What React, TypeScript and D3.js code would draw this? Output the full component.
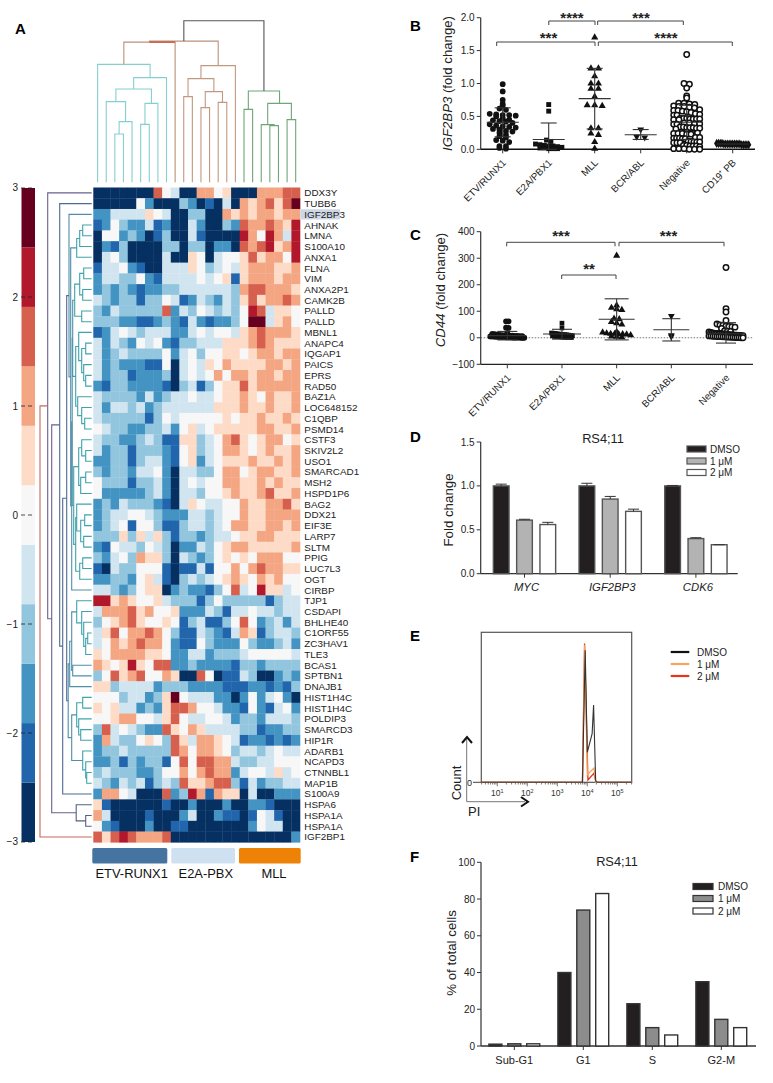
import React from "react";
import * as d3 from "d3";

// ---------- Panel A data ----------
const genes = ["DDX3Y","TUBB6","IGF2BP3","AHNAK","LMNA","S100A10","ANXA1","FLNA","VIM","ANXA2P1","CAMK2B","PALLD","PALLD","MBNL1","ANAPC4","IQGAP1","PAICS","EPRS","RAD50","BAZ1A","LOC648152","C1QBP","PSMD14","CSTF3","SKIV2L2","USO1","SMARCAD1","MSH2","HSPD1P6","BAG2","DDX21","EIF3E","LARP7","SLTM","PPIG","LUC7L3","OGT","CIRBP","TJP1","CSDAPI","BHLHE40","C1ORF55","ZC3HAV1","TLE3","BCAS1","SPTBN1","DNAJB1","HIST1H4C","HIST1H4C","POLDIP3","SMARCD3","HIP1R","ADARB1","NCAPD3","CTNNBL1","MAP1B","S100A9","HSPA6","HSPA1A","HSPA1A","IGF2BP1"];
// a = lowest expression band ... k = highest band of the colour key
const heatRows = [
"aaaaaaaifeaahhfgaaahhhii","aaaaafcaaadcabaeahghigik","cceeeegfeaaddaahghghhghh","bcfdccebcaaecaadcihhihgj",
"affcdcabdaaebaaaajhfjhej","acbdaaaaddaddaccaihijghj","aefdaaaaeaagfaeffgighhfj","beefcbaaeeegfdefeghhhggh",
"ceeddfcbeeeefefgbghhhghh","cdcdcbccddeeeeeedhiihhhg","edcddbddfebcedcedgighhih","dcedddddicedfededfjieggf",
"dddccbbcdcbecbccdfkkeghf","bcefedeeeccefeffeghihhhg","ecedcfefcbddeeeggghihggg","ecdeddddfcefdffggfghhghh",
"ecdcccbbfaefegfhgggghhgh","ecddbcccdaefefhfhhghhghh","cbddccccbadebdfggighhhhh","eddddcecdeefeefgghgfhggh",
"eceedecdeeeeeeggghgghggh","edddddbdfefffffgfgghgghg","feddccddecfgefggggghhggh","eddccdedbbggdefhigfghhfg",
"ecddbdddcbfgdefhhgfghggh","ccddbdeecbfgcefggghgghgh","dcddceefcaeeddfhhfghhggh","fdddbddecaefeffhhgghghgg",
"fcccccdecaeedffghgghiggh","cdcedddcbaegfeeffhgghhig","cdeeffedccceedeffhgghhhh","cdefbffdbbdeedefhhgghhgh",
"dddgdgegdbddcdeefgghhggg","cbfeedfedaccedfghhgggggh","dcefdhggdaedcdfgfgfhhhff","baeddfffbabbebffhfhihhgg",
"ccddcfgebadedefghgfhghff","eedcdfggacdccbdfiefjggef","jjghgffgedddbdfdddddbdee","ehhhighffgcccedbeefeedee",
"dfghigffgfbdebbdfifcdece","egifhhihfdbbedcbehgbdeed","efhghihhfcbbfdcccfdccdec","gfhhhhggfcceecdddefffffe",
"hgfgjgfiiccdccccbddcdddd","dfighiffhgaaifabbedaacdc","ggdeeeecdddccccbbbccbcbd","fffdeecdgkfeeeccacfcefca",
"gfgeecdcgiihffeccbfcbefc","ffghhffegifeeffecddceeed","diefedccigfhgeeeeddbccdd","cheddfgfdigehhgfebccbcbc",
"cddedddddihfhhgfdeedefee","ccdbdcddbfifiihheddeefff","dedddccdffhfhihhceffegef","edcedebdedigghiidbecddee",
"chhfeaaaicdjhbhggaeaaccc","gbaaaaaabaacaaacaaccbaaa","heaaaabaaaceaacbbabfebaa","fcbaaacaabbaaaaaaacfeeaa",
"igijihhhiaaaaaaaaaaaaaac"];
const keyTicks = [3,2,1,0,-1,-2,-3];
const subtypeNames = ["ETV-RUNX1","E2A-PBX","MLL"];
const subtypeColors = ["#4674a0","#cfe0f1","#ee8207"];
type T = number | [number, T, T];
// column dendrogram: [merge height, left, right], leaf = column index
const tealTree: T = [118,0,[104.7,[93.3,[80.7,1,[60.7,[48.3,2,3],4]],[79,[58,5,6],7]],8]];
const brownTree: T = [116.7,[103.7,[85.7,10,11],[90.7,[74.7,12,13],[80,14,15]]],16];
const greenTree: T = [91.3,[73,17,18],[79,[57.7,19,[56.7,20,21]],[62.7,22,23]]];
const colMidHeights = [140.3,141.3,161.7];
// row dendrogram: same form, leaf = row index
const upTop: T = [15,[12,[9,3,4],5],6];
const mainA: T = [19,[17,[12,[8,7,8],[9,9,10]],[10,11,12]],[16,[13,13,[10,[6,14,15],[8,16,[6,17,18]]]],[14,19,[10,20,[7,21,22]]]]];
const mainB: T = [18,[13,[10,23,[6,24,25]],[11,[6,26,27],28]],[16,[15,29,[11,[7,30,31],[8,32,33]]],[12,[9,34,35],36]]];
const upTree: T = [22.7,2,[21,upTop,[20,[19.5,mainA,mainB],37]]];
const downA: T = [22,[20,[15,38,[10,39,[8,40,[6,[4,41,42],43]]]],[19,44,45]],46];
const downB: T = [20,[15,[9,47,48],[13,49,[11,50,51]]],[9,52,[6,53,[5,54,55]]]];
const hspaTree: T = [15.5,57,[6,58,59]];
const rowTree: T = [51.7,[44,0,[40,[32,1,[29,[25,upTree,[23.5,downA,downB]],56]],hspaTree]],60];

// ---------- Panel B data ----------
const catsB = ["ETV/RUNX1","E2A/PBX1","MLL","BCR/ABL","Negative","CD19⁺ PB"];
const etvB = [0.99,0.88,0.75,0.69,0.66,0.62,0.6,0.54,0.53,0.52,0.52,0.51,0.5,0.47,0.45,0.44,0.43,0.42,0.4,0.38,0.36,0.35,0.34,0.33,0.31,0.3,0.28,0.27,0.25,0.22,0.2,0.18,0.14,0.13,0.11,0.05,0.05,0.02,0.01];
const e2aB = [0.68,0.58,0.14,0.12,0.08,0.07,0.06,0.05,0.05,0.04,0.03,0.02,0.02,0.01,0.01,0.01];
const mllB = [1.7,1.23,1.23,1.11,1.0,1.0,0.92,0.92,0.8,0.67,0.67,0.66,0.32,0.32,0.24,0.22,0.11,0.01];
const bcrB = [0.3,0.19,0.18];
const negB = [1.44,1.0,0.99,0.93,0.81,0.78,0.7,0.7,0.69,0.68,0.66,0.65,0.65,0.64,0.63,0.6,0.59,0.59,0.58,0.57,0.56,0.54,0.53,0.52,0.52,0.47,0.47,0.47,0.46,0.46,0.46,0.46,0.45,0.45,0.4,0.4,0.39,0.39,0.38,0.38,0.34,0.34,0.33,0.33,0.33,0.32,0.32,0.31,0.26,0.26,0.25,0.25,0.24,0.24,0.24,0.23,0.23,0.18,0.18,0.17,0.17,0.17,0.16,0.16,0.12,0.12,0.11,0.11,0.11,0.1,0.1,0.1,0.06,0.06,0.05,0.05,0.05,0.04,0.01,0.01,0.01,0,0,0];
const cd19B = [0.08,0.07,0.08,0.09,0.08,0.07,0.08,0.09,0.08,0.07,0.08,0.09,0.08,0.07,0.08,0.08,0.07,0.09,0.08];
const meansB = [0.41,0.15,0.77,0.22,0.41,0.08];
const hiB = [0.63,0.4,1.23,0.3,0.67,0.08];
const loB = [0.19,0,0.31,0.15,0.15,0.08];

// ---------- Panel C data ----------
const catsC = ["ETV/RUNX1","E2A/PBX1","MLL","BCR/ABL","Negative"];
const etvC = [62,62,38,37,18,15,14,12,11,10,9,9,8,8,7,7,6,6,5,5,5,4,4,4,3,3,3,3,2,2,2,2,1,1,1,1,1,0,0,0];
const e2aC = [55,37,18,17,16,15,14,13,12,12,11,10,9,8,7,6,5,5,4,3,2,2,1,1,1];
const mllC = [310,122,113,108,105,72,70,60,55,50,22,20,17,15,15,14,14,13,10,5,4,2];
const bcrC = [82,10,5];
const negC = [265,110,97,65,52,48,47,45,43,42,40,35,26,25,24,22,20,18,17,16,16,15,15,14,14,13,13,12,12,11,11,10,10,9,9,8,8,7,7,6,6,5,5,5,4,4,3,3,2,2,1,1,1,0,0];
const meansC = [8,14,70,30,15];
const hiC = [24,32,147,72,57];
const loC = [-8,-5,-8,-12,-20];

// ---------- Panel D data ----------
const genesD = ["MYC","IGF2BP3","CDK6"];
const treatments = ["DMSO","1 μM","2 μM"];
const dmsoD = [1.0,1.0,1.0];
const oneD = [0.61,0.85,0.4];
const twoD = [0.56,0.71,0.33];
const dmsoErrD = [1.02,1.03,1.005];
const oneErrD = [0.62,0.88,0.41];
const twoErrD = [0.585,0.735,0.33];

// ---------- Panel E data ----------
const histBlack: [number,number][] = [[2.93,0],[6900,0],[8500,88],[10000,20],[14500,32.5],[16200,51.5],[19000,1],[21000,0],[302000,0]];
const histOrange: [number,number][] = [[2.93,0],[6900,0],[8200,91.5],[10000,5],[16500,9.5],[19500,0],[302000,0]];
const histRed: [number,number][] = [[2.93,0],[6900,0],[8100,92.5],[10500,1.5],[16500,6],[19500,0],[302000,0]];
const logTicks = [1,2,3,4,5];

// ---------- Panel F data ----------
const phases = ["Sub-G1","G1","S","G2-M"];
const dmsoF = [1,40,23,35];
const oneF = [1.2,74,10,14.5];
const twoF = [1.2,83,6,10];

const FONT = "'Liberation Sans', Arial, Helvetica, sans-serif";
const INK = "#333";

function treePaths(node: T, xOf: (leaf:number)=>number, hOf: (h:number)=>number, out: {d:string;h:number;min:number}[], horizontal=false): {p:number;h:number;min:number} {
  if (typeof node === "number") return {p:xOf(node),h:0,min:node};
  const a = treePaths(node[1],xOf,hOf,out,horizontal);
  const b = treePaths(node[2],xOf,hOf,out,horizontal);
  const m = (a.p+b.p)/2, H = hOf(node[0]), ya = hOf(a.h), yb = hOf(b.h);
  const min = Math.min(a.min,b.min);
  const d = horizontal
    ? `M${ya},${a.p}H${H}V${b.p}H${yb}`
    : `M${a.p},${ya}V${H}H${b.p}V${yb}`;
  out.push({d,h:node[0],min});
  return {p:m,h:node[0],min};
}

function swarm(values:number[], bin:number, gap:number, maxW:number){
  const groups = d3.group(values, v=>Math.round(v/bin));
  const res:{v:number;dx:number}[] = [];
  groups.forEach(vs=>{
    const s = vs.slice().sort(d3.descending);
    const n = s.length;
    const g = n>1 ? Math.min(gap, 2*maxW/(n-1)) : 0;
    s.forEach((v,i)=>res.push({v,dx:(i-(n-1)/2)*g}));
  });
  return res;
}

const LeftAxis = ({x,scale,ticks,fmt}:{x:number;scale:any;ticks:number[];fmt:(v:number)=>string})=>(
  <g>
    <line x1={x} x2={x} y1={scale(ticks[0])} y2={scale(ticks[ticks.length-1])} stroke={INK} strokeWidth={1.2}/>
    {ticks.map(t=>(
      <g key={t}>
        <line x1={x-4} x2={x} y1={scale(t)} y2={scale(t)} stroke={INK} strokeWidth={1}/>
        <text x={x-6} y={scale(t)+3.5} textAnchor="end" fontSize={10} fill="#222">{fmt(t)}</text>
      </g>
    ))}
  </g>
);

const Bracket = ({x1,x2,y,stars,sx,sy}:{x1:number;x2:number;y:number;stars:string;sx:number;sy:number})=>(
  <g>
    <path d={`M${x1},${y+4}V${y}H${x2}V${y+4}`} fill="none" stroke="#444" strokeWidth={1}/>
    <text x={sx} y={sy} textAnchor="middle" fontSize={15} fontWeight="bold" fill="#222">{stars}</text>
  </g>
);

const Letter = ({x,y,t}:{x:number;y:number;t:string})=>(
  <text x={x} y={y} fontSize={15} fontWeight="bold" fill="#000">{t}</text>
);

const ErrBars = ({cx,y,mean,hi,lo,mw,cw}:{cx:number;y:any;mean:number;hi:number;lo:number;mw:number;cw:number})=>(
  <g stroke="#333" strokeWidth={1.1}>
    <line x1={cx} x2={cx} y1={y(hi)} y2={y(lo)}/>
    <line x1={cx-mw} x2={cx+mw} y1={y(mean)} y2={y(mean)}/>
    <line x1={cx-cw} x2={cx+cw} y1={y(hi)} y2={y(hi)}/>
    <line x1={cx-cw} x2={cx+cw} y1={y(lo)} y2={y(lo)}/>
  </g>
);

const sym = (t:any,size:number)=>d3.symbol().type(t).size(size)() as string;

const Dots = ({cx,y,vals,bin,gap,kind,size,maxW}:{cx:number;y:any;vals:number[];bin:number;gap:number;kind:string;size:number;maxW:number})=>{
  const pts = swarm(vals,bin,gap,maxW);
  const shape = kind==="square"?d3.symbolSquare:kind==="tri"?d3.symbolTriangle:kind==="diamond"?d3.symbolDiamond:d3.symbolCircle;
  const d = sym(shape,size);
  return <g>{pts.map((p,i)=>{
    const t = `translate(${cx+p.dx},${y(p.v)})${kind==="inv"?" rotate(180)":""}`;
    if(kind==="inv") return <path key={i} d={sym(d3.symbolTriangle,size)} transform={t} fill="#111"/>;
    if(kind==="open") return <circle key={i} cx={cx+p.dx} cy={y(p.v)} r={2.7} fill="#fff" stroke="#111" strokeWidth={1.5}/>;
    return <path key={i} d={d} transform={t} fill="#111"/>;
  })}</g>;
};

const GroupedBars = ({x,y,vals,fills,bw,stroke}:{x:(g:number,s:number)=>number;y:any;vals:number[][];fills:string[];bw:number;stroke:string})=>(
  <g>{vals.map((s,si)=>s.map((v,gi)=>(
    <rect key={si+"-"+gi} x={x(gi,si)} y={y(v)} width={bw} height={y(0)-y(v)} fill={fills[si]} stroke={stroke} strokeWidth={1.4}/>
  )))}</g>
);

const Legend = ({x,ys,w,h,fills,tx,stroke}:{x:number;ys:number[];w:number;h:number;fills:string[];tx:number;stroke:string})=>(
  <g>{treatments.map((t,i)=>(
    <g key={t}>
      <rect x={x} y={ys[i]-h/2} width={w} height={h} fill={fills[i]} stroke={stroke} strokeWidth={1.2}/>
      <text x={tx} y={ys[i]+3.5} fontSize={10} fill="#222">{t}</text>
    </g>
  ))}</g>
);

export default function App(){
  // ----- A -----
  const colX = d3.scaleBand<number>().domain(d3.range(24)).range([93.3,300]);
  const rowY = d3.scaleBand<number>().domain(d3.range(genes.length)).range([187.5,842.3]);
  const palette = d3.schemeRdBu[11].slice().reverse();
  const keyY = d3.scaleLinear().domain([3,-3]).range([188,842]);
  const keyBands = d3.range(11);
  const keyEdge = d3.scaleLinear().domain([0,11]).range([-3,3]);
  const colLeaf = (i:number)=>colX(i)!+colX.bandwidth()/2;
  const rowLeaf = (i:number)=>rowY(i)!+rowY.bandwidth()/2;
  const colH = d3.scaleLinear().domain([0,161.7]).range([182.3,20.7]);
  const rowH = d3.scaleLinear().domain([0,51.7]).range([91.7,40]);
  const t1:any[]=[],t2:any[]=[],t3:any[]=[],rows:any[]=[];
  const ra = treePaths(tealTree,colLeaf,colH,t1);
  const rb = treePaths(brownTree,colLeaf,colH,t2);
  const rc = treePaths(greenTree,colLeaf,colH,t3);
  const [hA,hB,hRoot]=colMidHeights;
  const mA=(ra.p+colLeaf(9))/2, mB=(mA+rb.p)/2;
  treePaths(rowTree,rowLeaf,rowH,rows,true);
  const rowColor = (n:{h:number;min:number})=> n.h>=50?"#c4685c": n.min>=57&&n.h<30?"#55607f": n.h>=38?"#6a5f93": n.h>=24?"#4e6a92": n.h>=19?"#4f8fa8":"#3fa3ad";
  const subX = [[92.3,167.3,131.7],[171.3,235,205.8],[239,300.7,274]];

  // ----- B -----
  const yB = d3.scaleLinear().domain([0,2]).range([149.3,17.7]);
  const xB = d3.scalePoint<string>().domain(catsB).range([502.7,732.7]);
  // ----- C -----
  const yC = d3.scaleLinear().domain([-100,400]).range([364.3,231.7]);
  const xC = d3.scalePoint<string>().domain(catsC).range([507.3,726]);
  // ----- D -----
  const yD = d3.scaleLinear().domain([0,1.5]).range([573.7,442]);
  const xD = d3.scaleBand<string>().domain(genesD).range([481.7,738.8]);
  const xD2 = (g:number,s:number)=>xD(genesD[g])!+xD.bandwidth()/2-31.2+s*23.3;
  const fillsD = ["#231f20","#b3b3b3","#fff"];
  const errsD = [dmsoErrD,oneErrD,twoErrD];
  const valsD = [dmsoD,oneD,twoD];
  // ----- E -----
  const xE = d3.scaleLog().domain([2.93,302000]).range([481.3,631.7]);
  const yE = d3.scaleLinear().domain([0,100]).range([782.3,632.3]);
  const lineE = d3.line<[number,number]>().x(d=>xE(d[0])).y(d=>yE(d[1]));
  const minorE = xE.ticks();
  // ----- F -----
  const yF = d3.scaleLinear().domain([0,100]).range([1046,862.3]);
  const xF = d3.scaleBand<string>().domain(phases).range([480,756]);
  const xF2 = (g:number,s:number)=>xF(phases[g])!+xF.bandwidth()/2-25.6+s*18.9;
  const fillsF = ["#231f20","#8c8c8c","#fff"];

  return (
    <svg width={773} height={1083} viewBox="0 0 773 1083" style={{position:"absolute",left:0,top:0,display:"block",background:"#fff"}} fontFamily={FONT}>
      <Letter x={15} y={34} t="A"/>
      <Letter x={410} y={31} t="B"/>
      <Letter x={410} y={240} t="C"/>
      <Letter x={410} y={442} t="D"/>
      <Letter x={410} y={641} t="E"/>
      <Letter x={410} y={862} t="F"/>

      {/* colour key */}
      {keyBands.map(i=>(
        <rect key={i} x={21.5} width={13.5} y={keyY(keyEdge(i+1))} height={keyY(keyEdge(i))-keyY(keyEdge(i+1))} fill={palette[i]}/>
      ))}
      {keyTicks.map(t=>(
        <g key={t}>
          <text x={18} y={keyY(t)+(t===3?3:t===-3?3:4)} textAnchor="end" fontSize={10} fill="#222">{t<0?"−"+(-t):t}</text>
          <line x1={21} x2={35} y1={keyY(t)} y2={keyY(t)} stroke="#222" strokeWidth={0.8} strokeDasharray="4 3"/>
        </g>
      ))}

      {/* dendrograms */}
      <g fill="none" strokeWidth={1.1}>
        {t1.map((n,i)=><path key={i} d={n.d} stroke="#86cfd1"/>)}
        {t2.map((n,i)=><path key={i} d={n.d} stroke="#c39880"/>)}
        {t3.map((n,i)=><path key={i} d={n.d} stroke="#6fa677"/>)}
        <path d={`M${ra.p},${colH(ra.h)}V${colH(hA)}H${colLeaf(9)}V${colH(0)}`} stroke="#bd9079"/>
        <path d={`M${mA},${colH(hA)}V${colH(hB)}H${rb.p}V${colH(rb.h)}`} stroke="#bd9079"/>
        <path d={`M${mA},${colH(hA)}H${colLeaf(9)}`} stroke="#c8573a" strokeWidth={1.4}/>
        <path d={`M${mB},${colH(hB)}V${colH(hRoot)}H${rc.p}V${colH(rc.h)}`} stroke="#555"/>
        {rows.map((n,i)=><path key={i} d={n.d} stroke={rowColor(n)}/>)}
      </g>

      {/* heatmap */}
      {heatRows.map((row,r)=>row.split("").map((c,ci)=>(
        <rect key={r+"-"+ci} x={colX(ci)} y={rowY(r)} width={colX.bandwidth()+0.3} height={rowY.bandwidth()+0.3} fill={palette[c.charCodeAt(0)-97]}/>
      )))}
      <rect x={300.5} y={rowY(2)!+0.3} width={39.5} height={10.2} fill="#ccd6e4"/>
      {genes.map((g,i)=>(
        <text key={i} x={304.3} y={rowY(i)!+rowY.bandwidth()/2+3.5} fontSize={9.9} fill="#222">{g}</text>
      ))}
      {subtypeNames.map((n,i)=>(
        <g key={n}>
          <rect x={subX[i][0]} y={848} width={subX[i][1]-subX[i][0]} height={15.5} rx={1.5} fill={subtypeColors[i]}/>
          <text x={subX[i][2]} y={878} textAnchor="middle" fontSize={12.9} fill="#111">{n}</text>
        </g>
      ))}

      {/* ---------- B ---------- */}
      <text transform={`translate(452,83.5) rotate(-90)`} textAnchor="middle" fontSize={13.2} fill="#222"><tspan fontStyle="italic">IGF2BP3</tspan> (fold change)</text>
      <LeftAxis x={480.7} scale={yB} ticks={[0,0.5,1,1.5,2]} fmt={v=>v.toFixed(1)}/>
      <line x1={480.7} x2={755} y1={yB(0)} y2={yB(0)} stroke="#111" strokeWidth={1.4}/>
      {catsB.map(c=>(
        <g key={c}>
          <line x1={xB(c)} x2={xB(c)} y1={yB(0)} y2={yB(0)+4} stroke={INK}/>
          <text transform={`translate(${xB(c)!+4},${yB(0)+14}) rotate(-45)`} textAnchor="end" fontSize={9.8} fill="#222">{c}</text>
        </g>
      ))}
      <Dots cx={xB(catsB[0])!} y={yB} vals={etvB} bin={0.06} gap={6.5} kind="dot" size={26} maxW={14}/>
      <Dots cx={xB(catsB[1])!} y={yB} vals={e2aB} bin={0.06} gap={4.4} kind="square" size={24} maxW={14}/>
      <Dots cx={xB(catsB[2])!} y={yB} vals={mllB} bin={0.06} gap={7.5} kind="tri" size={22} maxW={12}/>
      <Dots cx={xB(catsB[3])!} y={yB} vals={bcrB} bin={0.05} gap={8} kind="inv" size={20} maxW={10}/>
      <Dots cx={xB(catsB[4])!} y={yB} vals={negB} bin={0.07} gap={5.4} kind="open" size={30} maxW={13}/>
      <Dots cx={xB(catsB[5])!} y={yB} vals={cd19B} bin={1} gap={2} kind="diamond" size={24} maxW={16}/>
      {catsB.map((c,i)=><ErrBars key={c} cx={xB(c)!} y={yB} mean={meansB[i]} hi={hiB[i]} lo={loB[i]} mw={16} cw={i===5?0:8}/>)}
      <Bracket x1={548.8} x2={595} y={21} stars="****" sx={572} sy={23}/>
      <Bracket x1={597.7} x2={683.3} y={21} stars="***" sx={641} sy={23}/>
      <Bracket x1={496.7} x2={595} y={42} stars="***" sx={548.5} sy={43}/>
      <Bracket x1={598.3} x2={732.3} y={42} stars="****" sx={666} sy={43}/>

      {/* ---------- C ---------- */}
      <text transform={`translate(444.5,290) rotate(-90)`} textAnchor="middle" fontSize={13.2} fill="#222"><tspan fontStyle="italic">CD44</tspan> (fold change)</text>
      <LeftAxis x={480.7} scale={yC} ticks={[-100,0,100,200,300,400]} fmt={v=>v<0?"−"+(-v):String(v)}/>
      <line x1={480.7} x2={753} y1={yC(-100)} y2={yC(-100)} stroke="#222" strokeWidth={1.3}/>
      <line x1={480.7} x2={753} y1={yC(0)} y2={yC(0)} stroke="#555" strokeWidth={0.8} strokeDasharray="1.5 1.5"/>
      {catsC.map(c=>(
        <g key={c}>
          <line x1={xC(c)} x2={xC(c)} y1={yC(-100)} y2={yC(-100)+4} stroke={INK}/>
          <text transform={`translate(${xC(c)!+4},${yC(-100)+14}) rotate(-45)`} textAnchor="end" fontSize={9.8} fill="#222">{c}</text>
        </g>
      ))}
      <Dots cx={xC(catsC[0])!} y={yC} vals={etvC} bin={12} gap={2.5} kind="dot" size={26} maxW={17}/>
      <Dots cx={xC(catsC[1])!} y={yC} vals={e2aC} bin={15} gap={1.9} kind="square" size={22} maxW={17}/>
      <Dots cx={xC(catsC[2])!} y={yC} vals={mllC} bin={14} gap={5.2} kind="tri" size={22} maxW={14}/>
      <Dots cx={xC(catsC[3])!} y={yC} vals={bcrC} bin={18} gap={7} kind="inv" size={20} maxW={8}/>
      <Dots cx={xC(catsC[4])!} y={yC} vals={negC} bin={15} gap={3} kind="open" size={26} maxW={17}/>
      {catsC.map((c,i)=><ErrBars key={c} cx={xC(c)!} y={yC} mean={meansC[i]} hi={hiC[i]} lo={loC[i]} mw={i===2||i===3?18:19} cw={i===2?12:i===3?9:10}/>)}
      <Bracket x1={506.7} x2={615} y={242.3} stars="***" sx={561} sy={241}/>
      <Bracket x1={619} x2={724} y={242.3} stars="***" sx={668.5} sy={241}/>
      <Bracket x1={561.7} x2={616} y={275} stars="**" sx={589} sy={274}/>

      {/* ---------- D ---------- */}
      <text x={603} y={442.5} textAnchor="middle" fontSize={12.8} fill="#222">RS4;11</text>
      <text transform={`translate(453,510) rotate(-90)`} textAnchor="middle" fontSize={13.3} fill="#222">Fold change</text>
      <LeftAxis x={480.7} scale={yD} ticks={[0,0.5,1,1.5]} fmt={v=>v.toFixed(1)}/>
      <line x1={480.7} x2={737.7} y1={yD(0)} y2={yD(0)} stroke={INK} strokeWidth={1.2}/>
      <GroupedBars x={xD2} y={yD} vals={valsD} fills={fillsD} bw={15.7} stroke="#555"/>
      {valsD.map((s,si)=>s.map((v,gi)=>{
        const cx=xD2(gi,si)+7.85, e=errsD[si][gi];
        return <g key={si+"-"+gi} stroke="#333" strokeWidth={1}>
          <line x1={cx} x2={cx} y1={yD(v)} y2={yD(e)}/>
          <line x1={cx-5.5} x2={cx+5.5} y1={yD(e)} y2={yD(e)}/>
        </g>;
      }))}
      {genesD.map((g,i)=>{
        const cx=xD2(i,1)+7.85;
        return <g key={g}>
          <line x1={cx} x2={cx} y1={yD(0)} y2={yD(0)+4} stroke={INK}/>
          <text x={cx+2} y={591} textAnchor="middle" fontStyle="italic" fontSize={11.3} fill="#222">{g}</text>
        </g>;
      })}
      <Legend x={687} ys={[449,461,472.5]} w={19} h={6} fills={fillsD} tx={710} stroke="#555"/>

      {/* ---------- E ---------- */}
      <rect x={481.3} y={632.3} width={150.4} height={150} fill="none" stroke="#555" strokeWidth={1.2}/>
      {minorE.map((t,i)=>{
        const lg=Math.log10(t), isMaj=Math.abs(lg-Math.round(lg))<1e-9;
        return <line key={i} x1={xE(t)} x2={xE(t)} y1={782.3} y2={782.3+(isMaj?4:2.2)} stroke="#444" strokeWidth={0.7}/>;
      })}
      {logTicks.map(k=>(
        <text key={k} x={xE(Math.pow(10,k))} y={796} textAnchor="middle" fontSize={8.5} fill="#333">10<tspan dy={-3} fontSize={5.5}>{k}</tspan></text>
      ))}
      <path d={lineE(histRed)!} fill="none" stroke="#e8341c" strokeWidth={1.3}/>
      <path d={lineE(histOrange)!} fill="none" stroke="#f2a661" strokeWidth={1.3}/>
      <path d={lineE(histBlack)!} fill="none" stroke="#333" strokeWidth={1.1}/>
      <line x1={473} x2={481.3} y1={782.3} y2={782.3} stroke="#444"/>
      <text x={472} y={785.5} textAnchor="end" fontSize={9} fill="#222">0</text>
      <path d="M466.7,801.7V738M466.7,801.7H525" fill="none" stroke="#777" strokeWidth={1}/>
      <path d="M462,743L467,737L472,743" fill="none" stroke="#111" strokeWidth={2}/>
      <path d="M521,797L528,801.7L521,806.5" fill="none" stroke="#111" strokeWidth={2}/>
      <text transform={`translate(461,783) rotate(-90)`} fontSize={13} textAnchor="middle" fill="#222">Count</text>
      <text x={468} y={816} fontSize={13} fill="#222">PI</text>
      {["#111","#f2a661","#e8341c"].map((c,i)=>(
        <g key={i}>
          <line x1={670.7} x2={689.3} y1={652+12*i} y2={652+12*i} stroke={c} strokeWidth={2.2}/>
          <text x={697} y={655.5+12*i} fontSize={10} fill="#222">{treatments[i]}</text>
        </g>
      ))}

      {/* ---------- F ---------- */}
      <text x={617} y={866} textAnchor="middle" fontSize={12.8} fill="#222">RS4;11</text>
      <text transform={`translate(456,953) rotate(-90)`} textAnchor="middle" fontSize={13.3} fill="#222">% of total cells</text>
      <LeftAxis x={481} scale={yF} ticks={[0,20,40,60,80,100]} fmt={v=>String(v)}/>
      <line x1={481} x2={756} y1={yF(0)} y2={yF(0)} stroke={INK} strokeWidth={1.3}/>
      <GroupedBars x={xF2} y={yF} vals={[dmsoF,oneF,twoF]} fills={fillsF} bw={13} stroke="#333"/>
      {phases.map((p,i)=>{
        const cx=xF2(i,1)+6.5;
        return <g key={p}>
          <line x1={cx} x2={cx} y1={yF(0)} y2={yF(0)+4} stroke={INK}/>
          <text x={cx} y={1064} textAnchor="middle" fontSize={11} fill="#222">{p}</text>
        </g>;
      })}
      <Legend x={693} ys={[886.5,898.5,911]} w={20} h={6} fills={fillsF} tx={718} stroke="#333"/>
    </svg>
  );
}
